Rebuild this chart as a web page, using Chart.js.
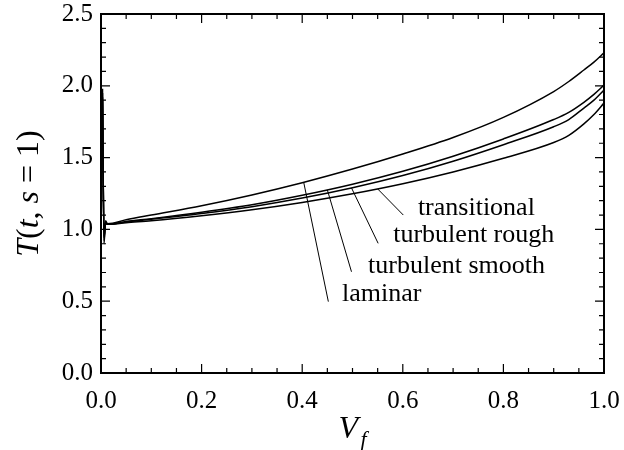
<!DOCTYPE html>
<html>
<head>
<meta charset="utf-8">
<script src="https://cdn.jsdelivr.net/npm/chart.js@4"></script>
<style>
  html, body { margin: 0; padding: 0; background: #fff; }
  #wrap { width: 624px; height: 450px; }
</style>
</head>
<body>
<div id="wrap"><canvas id="chart"></canvas></div>
<script>
// V_f sample points (shared by all four curves)
const vf = [0.003, 0.006, 0.009, 0.013, 0.05, 0.1, 0.2, 0.3, 0.4, 0.5, 0.6, 0.7, 0.8, 0.9, 0.93, 0.96, 0.98, 1.0];

const laminar      = [1.98, 0.90, 1.06, 1.04, 1.067, 1.10, 1.165, 1.24, 1.325, 1.42, 1.525, 1.64, 1.78, 1.96, 2.03, 2.11, 2.165, 2.23];
const turbSmooth   = [1.95, 0.92, 1.05, 1.035, 1.055, 1.075, 1.12, 1.172, 1.238, 1.315, 1.405, 1.51, 1.63, 1.765, 1.815, 1.885, 1.94, 2.005];
const turbRough    = [1.92, 0.94, 1.05, 1.035, 1.052, 1.07, 1.11, 1.158, 1.218, 1.29, 1.375, 1.475, 1.59, 1.715, 1.765, 1.845, 1.90, 1.97];
const transitional = [1.90, 0.95, 1.04, 1.035, 1.047, 1.06, 1.095, 1.137, 1.188, 1.248, 1.318, 1.40, 1.495, 1.605, 1.655, 1.735, 1.80, 1.88];

const xTicks = [0, 0.2, 0.4, 0.6, 0.8, 1.0];
const yTicks = [0, 0.5, 1.0, 1.5, 2.0, 2.5];

// curve labels: text position and leader line, in data units
const curveLabels = [
  { text: 'transitional',     tx: 0.630, ty: 1.149, from: [0.601, 1.100], to: [0.550, 1.282] },
  { text: 'turbulent rough',  tx: 0.581, ty: 0.961, from: [0.551, 0.903], to: [0.498, 1.289] },
  { text: 'turbulent smooth', tx: 0.531, ty: 0.745, from: [0.498, 0.705], to: [0.450, 1.275] },
  { text: 'laminar',          tx: 0.479, ty: 0.550, from: [0.452, 0.497], to: [0.403, 1.328] }
];

const SERIF = '"Liberation Serif", "DejaVu Serif", serif';

function pts(ys) {
  return vf.map(function (x, i) { return { x: x, y: ys[i] }; });
}

function curve(label, ys) {
  return {
    label: label,
    data: pts(ys),
    borderColor: '#000',
    borderWidth: 1.5,
    pointRadius: 0,
    fill: false,
    cubicInterpolationMode: 'monotone'
  };
}

const framePlugin = {
  id: 'frame',
  afterDraw: function (chart) {
    const ctx = chart.ctx;
    const a = chart.chartArea;
    const xs = chart.scales.x, ys = chart.scales.y;
    ctx.save();
    ctx.strokeStyle = '#000';

    // inward ticks on all four sides
    ctx.lineWidth = 1.2;
    ctx.beginPath();
    for (let i = 0; i <= 20; i++) {
      const v = i * 0.05;
      const len = (i % 4 === 0) ? 9 : 5;
      const px = xs.getPixelForValue(v);
      ctx.moveTo(px, a.bottom); ctx.lineTo(px, a.bottom - len);
      ctx.moveTo(px, a.top); ctx.lineTo(px, a.top + len);
    }
    for (let i = 0; i <= 25; i++) {
      const v = i * 0.1;
      const len = (i % 5 === 0) ? 9 : 5;
      const py = ys.getPixelForValue(v);
      ctx.moveTo(a.left, py); ctx.lineTo(a.left + len, py);
      ctx.moveTo(a.right, py); ctx.lineTo(a.right - len, py);
    }
    ctx.stroke();

    // box
    ctx.lineWidth = 2;
    ctx.strokeRect(a.left, a.top, a.right - a.left, a.bottom - a.top);

    // leader lines + labels
    ctx.lineWidth = 1;
    ctx.fillStyle = '#000';
    ctx.font = '26px ' + SERIF;
    ctx.textBaseline = 'middle';
    ctx.textAlign = 'left';
    curveLabels.forEach(function (l) {
      ctx.beginPath();
      ctx.moveTo(xs.getPixelForValue(l.from[0]), ys.getPixelForValue(l.from[1]));
      ctx.lineTo(xs.getPixelForValue(l.to[0]), ys.getPixelForValue(l.to[1]));
      ctx.stroke();
      ctx.fillText(l.text, xs.getPixelForValue(l.tx), ys.getPixelForValue(l.ty));
    });

    // x title: V_f
    const cx = (a.left + a.right) / 2;
    ctx.textBaseline = 'alphabetic';
    ctx.font = 'italic 32px ' + SERIF;
    ctx.fillText('V', cx - 14, 438);
    ctx.font = 'italic 22px ' + SERIF;
    ctx.fillText('f', cx + 8, 446);

    // y title: T(t, s = 1)
    ctx.translate(38, (a.top + a.bottom) / 2);
    ctx.rotate(-Math.PI / 2);
    const parts = [
      ['italic', 'T'], ['normal', '('], ['italic', 't'], ['normal', ', '],
      ['italic', 's'], ['normal', ' = 1)']
    ];
    let total = 0;
    parts.forEach(function (p) {
      ctx.font = p[0] + ' 32px ' + SERIF;
      total += ctx.measureText(p[1]).width;
    });
    let x0 = -total / 2;
    parts.forEach(function (p) {
      ctx.font = p[0] + ' 32px ' + SERIF;
      ctx.fillText(p[1], x0, 0);
      x0 += ctx.measureText(p[1]).width;
    });
    ctx.restore();
  }
};

new Chart(document.getElementById('chart').getContext('2d'), {
  type: 'line',
  data: {
    datasets: [
      curve('laminar', laminar),
      curve('turbulent smooth', turbSmooth),
      curve('turbulent rough', turbRough),
      curve('transitional', transitional)
    ]
  },
  options: {
    responsive: true,
    maintainAspectRatio: false,
    animation: false,
    layout: { padding: { top: 14, right: 20, left: 0, bottom: 0 } },
    plugins: { legend: { display: false }, tooltip: { enabled: false } },
    scales: {
      x: {
        type: 'linear',
        min: 0,
        max: 1,
        afterBuildTicks: function (s) { s.ticks = xTicks.map(function (v) { return { value: v }; }); },
        afterFit: function (s) { s.height = 77; s.paddingLeft = 0; s.paddingRight = 0; },
        grid: { display: false, drawTicks: false },
        border: { display: false },
        ticks: {
          color: '#000',
          padding: 16,
          maxRotation: 0,
          font: { family: SERIF, size: 25, lineHeight: 1 },
          callback: function (v) { return Number(v).toFixed(1); }
        }
      },
      y: {
        type: 'linear',
        min: 0,
        max: 2.5,
        afterBuildTicks: function (s) { s.ticks = yTicks.map(function (v) { return { value: v }; }); },
        afterFit: function (s) { s.width = 101; s.paddingTop = 0; s.paddingBottom = 0; },
        grid: { display: false, drawTicks: false },
        border: { display: false },
        ticks: {
          color: '#000',
          padding: 8,
          font: { family: SERIF, size: 25, lineHeight: 1 },
          callback: function (v) { return Number(v).toFixed(1); }
        }
      }
    }
  },
  plugins: [framePlugin]
});
</script>
</body>
</html>
